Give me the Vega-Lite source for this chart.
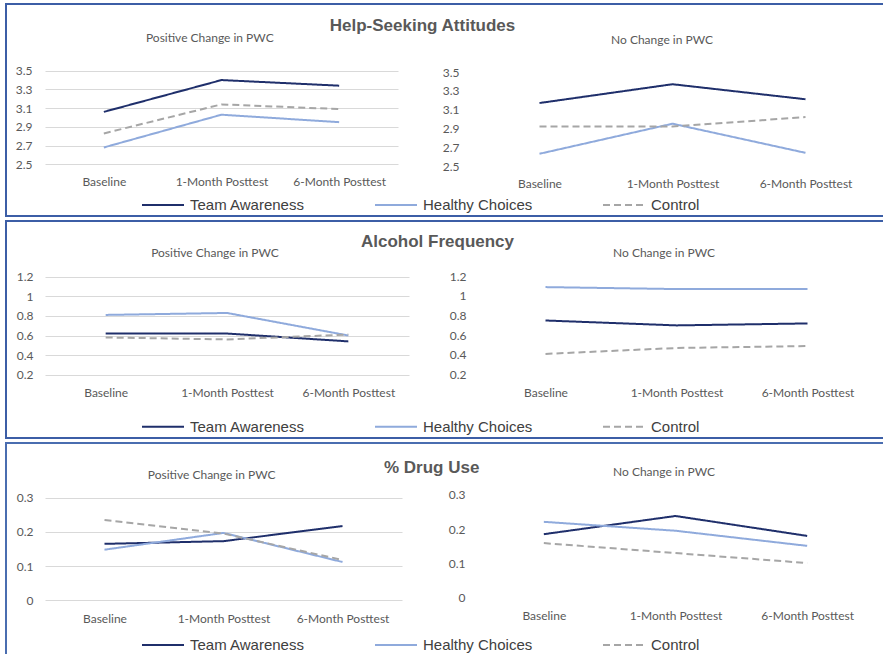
{
  "$schema": "https://vega.github.io/schema/vega-lite/v6.json",
  "background": "white",
  "padding": {"left": 5, "top": 3, "right": 0, "bottom": 0},
  "spacing": 3,
  "config": {
    "view": {"stroke": null},
    "axis": {"domain": false, "ticks": false, "tickSize": 0, "labelPadding": 0, "title": null, "labelFont": "Lato", "labelFontSize": 12, "labelColor": "#595959", "gridColor": "#d9d9d9", "gridWidth": 1, "labelOverlap": false, "labelBound": false, "labelFlush": false},
    "axisX": {"grid": false, "labelBaseline": "middle", "labelAngle": 0},
    "axisY": {"grid": true, "format": "~g"},
    "legend": {"orient": "none", "legendX": 135, "legendY": 179, "direction": "horizontal", "title": null, "symbolType": "stroke", "symbolSize": 1764, "symbolStrokeWidth": 2, "labelFont": "Liberation Sans", "labelFontSize": 15, "labelColor": "#404040", "labelOffset": 5, "columnPadding": 66, "padding": 0, "labelLimit": 300},
    "title": {"font": "Liberation Sans", "fontSize": 17, "fontWeight": "bold", "color": "#595959", "anchor": "middle"},
    "text": {"font": "Lato", "fontSize": 12, "color": "#595959"}
  },
  "data": {"values": [
    {"m": "HS", "p": "P", "g": "Team Awareness", "t": "Baseline", "v": 3.06},
    {"m": "HS", "p": "P", "g": "Team Awareness", "t": "1-Month Posttest", "v": 3.40},
    {"m": "HS", "p": "P", "g": "Team Awareness", "t": "6-Month Posttest", "v": 3.34},
    {"m": "HS", "p": "P", "g": "Healthy Choices", "t": "Baseline", "v": 2.68},
    {"m": "HS", "p": "P", "g": "Healthy Choices", "t": "1-Month Posttest", "v": 3.03},
    {"m": "HS", "p": "P", "g": "Healthy Choices", "t": "6-Month Posttest", "v": 2.95},
    {"m": "HS", "p": "P", "g": "Control", "t": "Baseline", "v": 2.83},
    {"m": "HS", "p": "P", "g": "Control", "t": "1-Month Posttest", "v": 3.14},
    {"m": "HS", "p": "P", "g": "Control", "t": "6-Month Posttest", "v": 3.09},
    {"m": "HS", "p": "N", "g": "Team Awareness", "t": "Baseline", "v": 3.17},
    {"m": "HS", "p": "N", "g": "Team Awareness", "t": "1-Month Posttest", "v": 3.37},
    {"m": "HS", "p": "N", "g": "Team Awareness", "t": "6-Month Posttest", "v": 3.21},
    {"m": "HS", "p": "N", "g": "Healthy Choices", "t": "Baseline", "v": 2.63},
    {"m": "HS", "p": "N", "g": "Healthy Choices", "t": "1-Month Posttest", "v": 2.95},
    {"m": "HS", "p": "N", "g": "Healthy Choices", "t": "6-Month Posttest", "v": 2.64},
    {"m": "HS", "p": "N", "g": "Control", "t": "Baseline", "v": 2.92},
    {"m": "HS", "p": "N", "g": "Control", "t": "1-Month Posttest", "v": 2.92},
    {"m": "HS", "p": "N", "g": "Control", "t": "6-Month Posttest", "v": 3.02},
    {"m": "AF", "p": "P", "g": "Team Awareness", "t": "Baseline", "v": 0.62},
    {"m": "AF", "p": "P", "g": "Team Awareness", "t": "1-Month Posttest", "v": 0.62},
    {"m": "AF", "p": "P", "g": "Team Awareness", "t": "6-Month Posttest", "v": 0.54},
    {"m": "AF", "p": "P", "g": "Healthy Choices", "t": "Baseline", "v": 0.81},
    {"m": "AF", "p": "P", "g": "Healthy Choices", "t": "1-Month Posttest", "v": 0.83},
    {"m": "AF", "p": "P", "g": "Healthy Choices", "t": "6-Month Posttest", "v": 0.60},
    {"m": "AF", "p": "P", "g": "Control", "t": "Baseline", "v": 0.58},
    {"m": "AF", "p": "P", "g": "Control", "t": "1-Month Posttest", "v": 0.56},
    {"m": "AF", "p": "P", "g": "Control", "t": "6-Month Posttest", "v": 0.61},
    {"m": "AF", "p": "N", "g": "Team Awareness", "t": "Baseline", "v": 0.75},
    {"m": "AF", "p": "N", "g": "Team Awareness", "t": "1-Month Posttest", "v": 0.70},
    {"m": "AF", "p": "N", "g": "Team Awareness", "t": "6-Month Posttest", "v": 0.72},
    {"m": "AF", "p": "N", "g": "Healthy Choices", "t": "Baseline", "v": 1.09},
    {"m": "AF", "p": "N", "g": "Healthy Choices", "t": "1-Month Posttest", "v": 1.07},
    {"m": "AF", "p": "N", "g": "Healthy Choices", "t": "6-Month Posttest", "v": 1.07},
    {"m": "AF", "p": "N", "g": "Control", "t": "Baseline", "v": 0.41},
    {"m": "AF", "p": "N", "g": "Control", "t": "1-Month Posttest", "v": 0.47},
    {"m": "AF", "p": "N", "g": "Control", "t": "6-Month Posttest", "v": 0.49},
    {"m": "DU", "p": "P", "g": "Team Awareness", "t": "Baseline", "v": 0.165},
    {"m": "DU", "p": "P", "g": "Team Awareness", "t": "1-Month Posttest", "v": 0.173},
    {"m": "DU", "p": "P", "g": "Team Awareness", "t": "6-Month Posttest", "v": 0.217},
    {"m": "DU", "p": "P", "g": "Healthy Choices", "t": "Baseline", "v": 0.148},
    {"m": "DU", "p": "P", "g": "Healthy Choices", "t": "1-Month Posttest", "v": 0.197},
    {"m": "DU", "p": "P", "g": "Healthy Choices", "t": "6-Month Posttest", "v": 0.112},
    {"m": "DU", "p": "P", "g": "Control", "t": "Baseline", "v": 0.235},
    {"m": "DU", "p": "P", "g": "Control", "t": "1-Month Posttest", "v": 0.195},
    {"m": "DU", "p": "P", "g": "Control", "t": "6-Month Posttest", "v": 0.118},
    {"m": "DU", "p": "N", "g": "Team Awareness", "t": "Baseline", "v": 0.185},
    {"m": "DU", "p": "N", "g": "Team Awareness", "t": "1-Month Posttest", "v": 0.238},
    {"m": "DU", "p": "N", "g": "Team Awareness", "t": "6-Month Posttest", "v": 0.180},
    {"m": "DU", "p": "N", "g": "Healthy Choices", "t": "Baseline", "v": 0.221},
    {"m": "DU", "p": "N", "g": "Healthy Choices", "t": "1-Month Posttest", "v": 0.195},
    {"m": "DU", "p": "N", "g": "Healthy Choices", "t": "6-Month Posttest", "v": 0.151},
    {"m": "DU", "p": "N", "g": "Control", "t": "Baseline", "v": 0.159},
    {"m": "DU", "p": "N", "g": "Control", "t": "1-Month Posttest", "v": 0.130},
    {"m": "DU", "p": "N", "g": "Control", "t": "6-Month Posttest", "v": 0.101}
  ]},
  "vconcat": [
    {
      "width": 880, "height": 212,
      "view": {"stroke": "#3c5ea6", "strokeWidth": 2},
      "title": {"text": "Help-Seeking Attitudes", "offset": -31, "dx": -23.5},
      "resolve": {"scale": {"x": "independent", "y": "independent"}, "axis": {"x": "independent", "y": "independent"}},
      "layer": [
        {"layer": [
          {"transform": [{"filter": "datum.m === 'HS' && datum.p === 'P'"}],
           "mark": {"type": "line", "strokeWidth": 2},
           "encoding": {
             "x": {"field": "t", "type": "ordinal", "scale": {"domain": ["Baseline", "1-Month Posttest", "6-Month Posttest"], "range": [39, 392], "padding": 0.5}, "axis": {"orient": "bottom", "offset": -34.3}},
             "y": {"field": "v", "type": "quantitative", "scale": {"domain": [2.5, 3.5], "range": [160.3, 66.7], "nice": false, "zero": false}, "axis": {"orient": "left", "offset": -26, "values": [2.5, 2.7, 2.9, 3.1, 3.3, 3.5]}},
             "color": {"field": "g", "type": "nominal", "scale": {"domain": ["Team Awareness", "Healthy Choices", "Control"], "range": ["#1f2f6b", "#8faadc", "#a6a6a6"]}},
             "strokeDash": {"field": "g", "type": "nominal", "scale": {"domain": ["Team Awareness", "Healthy Choices", "Control"], "range": [[1, 0], [1, 0], [7, 4]]}}
           }},
          {"data": {"values": [{"s": "Positive Change in PWC"}]},
           "mark": {"type": "text", "dx": -11.7},
           "encoding": {"x": {"datum": "1-Month Posttest", "type": "ordinal"}, "y": {"datum": 3.853, "type": "quantitative"}, "text": {"field": "s"}}}
        ]},
        {"layer": [
          {"transform": [{"filter": "datum.m === 'HS' && datum.p === 'N'"}],
           "mark": {"type": "line", "strokeWidth": 2},
           "encoding": {
             "x": {"field": "t", "type": "ordinal", "scale": {"domain": ["Baseline", "1-Month Posttest", "6-Month Posttest"], "range": [467, 866], "padding": 0.5}, "axis": {"orient": "bottom", "offset": -33}},
             "y": {"field": "v", "type": "quantitative", "scale": {"domain": [2.5, 3.5], "range": [162, 68], "nice": false, "zero": false}, "axis": {"orient": "left", "offset": -453, "values": [2.5, 2.7, 2.9, 3.1, 3.3, 3.5]}},
             "color": {"field": "g", "type": "nominal"},
             "strokeDash": {"field": "g", "type": "nominal"}
           }},
          {"data": {"values": [{"s": "No Change in PWC"}]},
           "mark": {"type": "text", "dx": -10.5},
           "encoding": {"x": {"datum": "1-Month Posttest", "type": "ordinal"}, "y": {"datum": 3.84, "type": "quantitative"}, "text": {"field": "s"}}}
        ]}
      ]
    },
    {
      "width": 880, "height": 217,
      "view": {"stroke": "#3c5ea6", "strokeWidth": 2},
      "title": {"text": "Alcohol Frequency", "offset": -30, "dx": -8.5},
      "resolve": {"scale": {"x": "independent", "y": "independent"}, "axis": {"x": "independent", "y": "independent"}},
      "layer": [
        {"layer": [
          {"transform": [{"filter": "datum.m === 'AF' && datum.p === 'P'"}],
           "mark": {"type": "line", "strokeWidth": 2},
           "encoding": {
             "x": {"field": "t", "type": "ordinal", "scale": {"domain": ["Baseline", "1-Month Posttest", "6-Month Posttest"], "range": [39, 403], "padding": 0.5}, "axis": {"orient": "bottom", "offset": -46}},
             "y": {"field": "v", "type": "quantitative", "scale": {"domain": [0.2, 1.2], "range": [153.7, 55.7], "nice": false, "zero": false}, "axis": {"orient": "left", "offset": -27, "values": [0.2, 0.4, 0.6, 0.8, 1, 1.2]}},
             "color": {"field": "g", "type": "nominal", "scale": {"domain": ["Team Awareness", "Healthy Choices", "Control"], "range": ["#1f2f6b", "#8faadc", "#a6a6a6"]}, "legend": {"legendY": 183.7}},
             "strokeDash": {"field": "g", "type": "nominal", "scale": {"domain": ["Team Awareness", "Healthy Choices", "Control"], "range": [[1, 0], [1, 0], [7, 4]]}, "legend": {"legendY": 183.7}}
           }},
          {"data": {"values": [{"s": "Positive Change in PWC"}]},
           "mark": {"type": "text", "dx": -12},
           "encoding": {"x": {"datum": "1-Month Posttest", "type": "ordinal"}, "y": {"datum": 1.439, "type": "quantitative"}, "text": {"field": "s"}}}
        ]},
        {"layer": [
          {"transform": [{"filter": "datum.m === 'AF' && datum.p === 'N'"}],
           "mark": {"type": "line", "strokeWidth": 2},
           "encoding": {
             "x": {"field": "t", "type": "ordinal", "scale": {"domain": ["Baseline", "1-Month Posttest", "6-Month Posttest"], "range": [474, 867], "padding": 0.5}, "axis": {"orient": "bottom", "offset": -46}},
             "y": {"field": "v", "type": "quantitative", "scale": {"domain": [0.2, 1.2], "range": [153.5, 55.3], "nice": false, "zero": false}, "axis": {"orient": "left", "offset": -460, "values": [0.2, 0.4, 0.6, 0.8, 1, 1.2]}},
             "color": {"field": "g", "type": "nominal"},
             "strokeDash": {"field": "g", "type": "nominal"}
           }},
          {"data": {"values": [{"s": "No Change in PWC"}]},
           "mark": {"type": "text", "dx": -12.5},
           "encoding": {"x": {"datum": "1-Month Posttest", "type": "ordinal"}, "y": {"datum": 1.434, "type": "quantitative"}, "text": {"field": "s"}}}
        ]}
      ]
    },
    {
      "width": 880, "height": 216,
      "view": {"stroke": "#4a6db0", "strokeWidth": 2},
      "title": {"text": "% Drug Use", "offset": -34, "dx": -14.3},
      "resolve": {"scale": {"x": "independent", "y": "independent"}, "axis": {"x": "independent", "y": "independent"}},
      "layer": [
        {"layer": [
          {"transform": [{"filter": "datum.m === 'DU' && datum.p === 'P'"}],
           "mark": {"type": "line", "strokeWidth": 2},
           "encoding": {
             "x": {"field": "t", "type": "ordinal", "scale": {"domain": ["Baseline", "1-Month Posttest", "6-Month Posttest"], "range": [39, 396], "padding": 0.5}, "axis": {"orient": "bottom", "offset": -40.7}},
             "y": {"field": "v", "type": "quantitative", "scale": {"domain": [0, 0.3], "range": [157.3, 54.7], "nice": false, "zero": false}, "axis": {"orient": "left", "offset": -27, "values": [0, 0.1, 0.2, 0.3]}},
             "color": {"field": "g", "type": "nominal", "scale": {"domain": ["Team Awareness", "Healthy Choices", "Control"], "range": ["#1f2f6b", "#8faadc", "#a6a6a6"]}, "legend": {"legendY": 180}},
             "strokeDash": {"field": "g", "type": "nominal", "scale": {"domain": ["Team Awareness", "Healthy Choices", "Control"], "range": [[1, 0], [1, 0], [7, 4]]}, "legend": {"legendY": 180}}
           }},
          {"data": {"values": [{"s": "Positive Change in PWC"}]},
           "mark": {"type": "text", "dx": -11.8},
           "encoding": {"x": {"datum": "1-Month Posttest", "type": "ordinal"}, "y": {"datum": 0.367, "type": "quantitative"}, "text": {"field": "s"}}}
        ]},
        {"layer": [
          {"transform": [{"filter": "datum.m === 'DU' && datum.p === 'N'"}],
           "mark": {"type": "line", "strokeWidth": 2},
           "encoding": {
             "x": {"field": "t", "type": "ordinal", "scale": {"domain": ["Baseline", "1-Month Posttest", "6-Month Posttest"], "range": [472, 867], "padding": 0.5}, "axis": {"orient": "bottom", "offset": -44}},
             "y": {"field": "v", "type": "quantitative", "scale": {"domain": [0, 0.3], "range": [154.7, 51.7], "nice": false, "zero": false}, "axis": {"orient": "left", "offset": -459, "values": [0, 0.1, 0.2, 0.3]}},
             "color": {"field": "g", "type": "nominal"},
             "strokeDash": {"field": "g", "type": "nominal"}
           }},
          {"data": {"values": [{"s": "No Change in PWC"}]},
           "mark": {"type": "text", "dx": -11.5},
           "encoding": {"x": {"datum": "1-Month Posttest", "type": "ordinal"}, "y": {"datum": 0.367, "type": "quantitative"}, "text": {"field": "s"}}}
        ]}
      ]
    }
  ],
  "resolve": {"scale": {"color": "independent", "strokeDash": "independent"}, "legend": {"color": "independent", "strokeDash": "independent"}}
}
